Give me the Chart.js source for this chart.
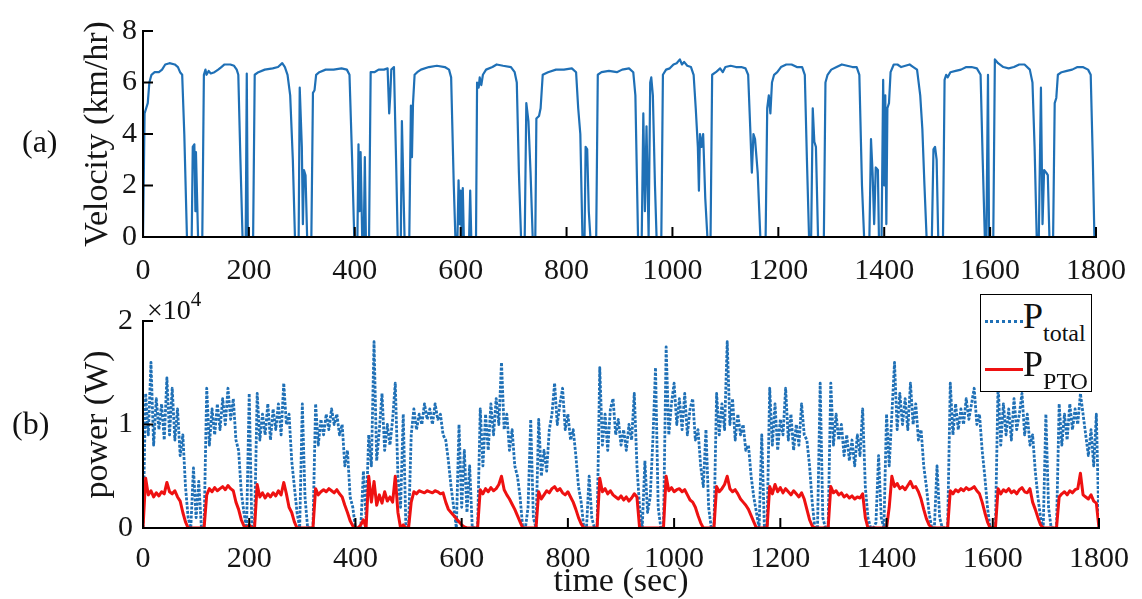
<!DOCTYPE html>
<html>
<head>
<meta charset="utf-8">
<script src="https://cdn.jsdelivr.net/npm/chart.js@4.4.0/dist/chart.umd.min.js"></script>
<style>
  html, body { margin: 0; padding: 0; background: #fff; overflow: hidden; }
  #wrap { position: relative; width: 1142px; height: 599px; font-family: 'Liberation Serif', 'Times New Roman', serif; color: #111; }
  #velocityChart { position: absolute; left: 0; top: 0; }
  #powerChart { position: absolute; left: 0; top: 290px; }
  .panel-tag { position: absolute; font-size: 32px; line-height: 1; }
  #exponent { position: absolute; left: 147px; top: 292px; font-size: 28px; line-height: 1; }
  #exponent sup { font-size: 21px; position: relative; top: -3px; }
  #legend { position: absolute; left: 980px; top: 294px; width: 110px; height: 96px; border: 1.5px solid #000; background: #fff; z-index: 2; }
  .legend-row { position: relative; height: 48px; }
  .legend-line { position: absolute; left: 4px; top: 25px; width: 38px; height: 0; }
  .legend-text { position: absolute; left: 42px; top: 3px; font-size: 36px; line-height: 1; white-space: nowrap; }
  .legend-text sub { font-size: 24px; vertical-align: -13px; }
</style>
</head>
<body>
<div id="wrap">
  <canvas id="velocityChart" width="1142" height="290"></canvas>
  <canvas id="powerChart" width="1142" height="330"></canvas>
  <span class="panel-tag" style="left:22px; top:125px;">(a)</span>
  <span class="panel-tag" style="left:12px; top:407px;">(b)</span>
  <span id="exponent">&times;10<sup>4</sup></span>
  <div id="legend"></div>
</div>
<script>
// ---- data ----
// velocity trace, irregular time samples (sec) and km/hr
const velTime = [
  0, 3, 6, 9, 12, 16, 22, 30, 36, 42, 50, 60, 66, 70, 74, 78, 83,
  92, 94, 97, 99, 100, 104,
  112, 115, 118, 120, 124, 128, 135, 142, 148, 154, 165, 172, 177, 180, 184, 188,
  194, 196, 198,
  208, 211, 218, 230, 245, 255, 263, 268, 273, 278, 283, 287,
  294, 296, 300, 302, 304, 307, 310,
  318, 321, 324, 327, 333, 345, 360, 375, 385, 390, 395, 399,
  405, 407, 409, 411, 414, 417, 419, 421,
  427, 430, 437, 445, 455, 462, 465, 467, 469, 474, 478, 481,
  487, 489, 494, 503, 506, 508, 510, 513,
  518, 525, 540, 555, 570, 578, 582, 587, 590,
  594, 596, 598, 600, 602, 604, 606, 616, 618, 620,
  629, 631, 634, 636, 639, 642, 648, 660, 668, 680, 695, 702, 706, 710, 714,
  721, 724, 728, 732, 736,
  741, 743, 748, 751, 755, 765, 780, 795, 810, 818, 822, 826, 830,
  834, 836, 839, 842, 845,
  856, 859, 866, 880, 895, 905, 918, 926, 930, 935,
  942, 945, 948, 951, 955, 958, 960, 963, 967, 970,
  979, 982, 988, 995, 1002, 1008, 1014, 1018, 1022, 1028, 1035, 1040, 1044, 1048, 1050, 1052, 1055, 1058, 1062, 1066,
  1072, 1075, 1082, 1090, 1095, 1100, 1110, 1120, 1130, 1138, 1143, 1147, 1150, 1153, 1156, 1161, 1166,
  1176, 1179, 1182, 1185, 1188, 1192, 1198, 1205, 1215, 1225, 1235, 1245, 1250, 1254, 1258,
  1262, 1265, 1268, 1271, 1275,
  1286, 1289, 1293, 1300, 1310, 1320, 1330, 1340, 1348, 1353, 1358, 1362,
  1372, 1375, 1378, 1381, 1384, 1388, 1390, 1395, 1398, 1400, 1402, 1404, 1406, 1409,
  1412, 1418, 1425, 1432, 1440, 1448, 1455, 1462, 1468, 1472, 1476, 1480,
  1490, 1493, 1496, 1499, 1502,
  1511, 1514, 1517, 1520, 1525, 1535, 1545, 1555, 1565, 1575, 1582, 1586, 1590,
  1593, 1596, 1598,
  1606, 1609, 1615, 1625, 1635, 1645, 1655, 1665, 1675, 1680, 1684, 1688,
  1692, 1696, 1699, 1702, 1706, 1709, 1712,
  1719, 1722, 1725, 1728, 1735, 1745, 1755, 1765, 1775, 1785, 1790, 1794, 1797, 1800
];
const velValue = [
  0, 4.8, 5.0, 5.2, 6.0, 6.3, 6.4, 6.4, 6.5, 6.7, 6.75, 6.7, 6.6, 6.4, 6.3, 4.0, 0,
  0, 3.5, 3.6, 1.0, 3.3, 0,
  0, 6.3, 6.5, 6.3, 6.45, 6.35, 6.4, 6.5, 6.6, 6.7, 6.7, 6.65, 6.5, 6.3, 3.0, 0,
  0, 6.35, 0,
  0, 6.3, 6.4, 6.5, 6.55, 6.6, 6.75, 6.6, 6.3, 5.5, 3.0, 0,
  0, 5.8, 3.5, 0.5, 2.6, 2.4, 0,
  0, 5.6, 5.7, 6.3, 6.4, 6.5, 6.5, 6.55, 6.5, 6.3, 3.0, 0,
  0, 3.6, 1.0, 3.3, 0, 0, 3.1, 0,
  0, 6.4, 6.4, 6.5, 6.5, 6.55, 4.8, 5.5, 6.5, 6.6, 3.0, 0,
  0, 4.5, 0, 0, 5.1, 3.1, 5.2, 6.3,
  6.4, 6.5, 6.6, 6.65, 6.6, 6.5, 6.2, 2.0, 0,
  0, 2.2, 0.5, 1.8, 0, 1.9, 0, 0, 1.8, 0,
  0, 6.0, 5.8, 6.2, 5.9, 6.3, 6.5, 6.6, 6.7, 6.65, 6.6, 6.4, 6.0, 2.5, 0,
  0, 5.2, 4.5, 2.5, 0,
  0, 4.6, 4.7, 5.0, 6.3, 6.4, 6.5, 6.5, 6.55, 6.4, 5.0, 4.0, 0,
  0, 3.5, 3.4, 1.0, 0,
  0, 6.3, 6.4, 6.45, 6.4, 6.5, 6.55, 6.4, 5.5, 0,
  0, 4.8, 1.0, 4.3, 0, 6.0, 6.2, 5.5, 2.0, 0,
  0, 6.3, 6.5, 6.55, 6.7, 6.75, 6.9, 6.7, 6.8, 6.65, 6.6, 6.3, 5.0, 3.5, 1.8, 4.0, 3.5, 4.0, 1.5, 0,
  0, 6.3, 6.4, 6.55, 6.4, 6.6, 6.65, 6.6, 6.6, 6.55, 6.3, 4.2, 2.5, 4.0, 3.8, 2.5, 0,
  0, 5.0, 5.5, 4.8, 6.0, 6.3, 6.4, 6.6, 6.7, 6.7, 6.6, 6.6, 6.3, 3.0, 0,
  0, 5.0, 3.7, 3.5, 0,
  0, 6.0, 6.3, 6.5, 6.6, 6.7, 6.65, 6.6, 6.6, 6.3, 2.0, 0,
  0, 3.8, 2.5, 0.5, 2.7, 2.6, 0, 0, 6.1, 2.0, 5.5, 0.5, 5.0, 5.2,
  6.4, 6.7, 6.7, 6.6, 6.65, 6.7, 6.6, 6.5, 5.5, 4.2, 2.0, 0,
  0, 3.4, 3.5, 3.0, 0,
  0, 6.1, 6.3, 6.2, 6.4, 6.45, 6.5, 6.6, 6.6, 6.55, 6.3, 3.0, 0,
  0, 6.3, 0,
  0, 6.9, 6.75, 6.6, 6.55, 6.6, 6.7, 6.7, 6.5, 6.0, 3.5, 0,
  0, 5.8, 0.5, 2.6, 2.5, 2.4, 0,
  0, 5.2, 5.4, 6.3, 6.4, 6.45, 6.5, 6.6, 6.6, 6.5, 6.3, 3.0, 0, 0
];

// power traces (W), one sample every 5 s from 0 to 1800 s
const SAMPLE_STEP = 5;
const pTotal = [
  0, 13000, 9000, 16000, 8000, 12500, 9500, 12000, 8500, 14500,
  9000, 13500, 8500, 11500, 7000, 9000, 4000, 1000, 0, 5800,
  1000, 4500, 0, 0, 13500, 8000, 11500, 9000, 12000, 9500,
  12500, 10000, 13500, 10500, 12500, 8500, 7500, 3500, 1500, 0,
  13000, 0, 0, 13000, 8500, 11000, 9000, 12000, 8500, 11500,
  9500, 12000, 9000, 14000, 10000, 11000, 6500, 4000, 1500, 0,
  12000, 3000, 0, 0, 0, 12000, 8000, 10500, 9000, 11000,
  9500, 11500, 10000, 11000, 9000, 10000, 6000, 7500, 3000, 2000,
  0, 0, 0, 5500, 1000, 9000, 6000, 18000, 6500, 9500,
  13000, 7500, 10000, 8000, 10500, 14000, 5000, 2000, 11000, 0,
  0, 9000, 11500, 9500, 11000, 10000, 12000, 10500, 11500, 10000,
  12000, 10500, 11000, 9000, 8500, 6500, 4000, 2000, 0, 10000,
  2000, 7500, 1500, 6000, 0, 0, 0, 11500, 6000, 11000,
  7500, 12000, 9000, 12500, 10000, 16000, 9500, 11000, 7500, 9500,
  6000, 5000, 3000, 0, 0, 2000, 10500, 1000, 0, 10500,
  5000, 7500, 5500, 9500, 11000, 14000, 10000, 12000, 13500, 9500,
  11000, 8500, 9500, 7000, 4000, 2500, 0, 0, 5000, 1000,
  0, 0, 15500, 8000, 11000, 7500, 11500, 12500, 9000, 10500,
  8000, 9500, 7500, 10000, 8500, 13000, 6000, 2000, 0, 6500,
  1500, 3000, 8500, 15500, 2000, 0, 0, 17500, 9000, 12000,
  14000, 10000, 12500, 9500, 13000, 9000, 11500, 12500, 8500, 9500,
  6000, 4000, 9500, 2000, 0, 0, 13000, 9000, 12000, 9500,
  18000, 10000, 12500, 8500, 11000, 9000, 10000, 7500, 8000, 5000,
  3000, 1500, 0, 9000, 0, 0, 13500, 8000, 12000, 7500,
  10500, 9000, 13500, 8500, 11000, 7500, 10000, 8000, 12000, 9000,
  8500, 6000, 2500, 0, 0, 14000, 1000, 0, 0, 14000,
  8000, 11000, 8500, 10000, 7000, 9000, 6500, 8500, 6000, 9000,
  7000, 11500, 4000, 1000, 0, 0, 500, 7000, 1000, 0,
  11000, 6000, 11000, 16000, 9500, 13000, 10000, 12500, 9500, 14000,
  10000, 12000, 8500, 9500, 6000, 4000, 1500, 0, 0, 6000,
  1000, 0, 0, 0, 14000, 9000, 12000, 9500, 11500, 10000,
  12500, 10500, 12000, 13500, 10000, 11000, 7500, 5000, 2000, 0,
  0, 0, 14000, 8000, 12000, 9000, 11500, 8500, 12500, 9500,
  11000, 13000, 9000, 11000, 8000, 9000, 5500, 3000, 1000, 0,
  11000, 2000, 0, 0, 0, 12000, 8000, 11000, 8500, 12000,
  9500, 11500, 10000, 13000, 11000, 9000, 7000, 9500, 6000, 11000,
  0
];
const pPto = [
  0, 4800, 3200, 3600, 3000, 3400, 3100, 3500, 3300, 4400,
  3500, 3300, 3600, 3000, 2600, 1500, 600, 0, 0, 0,
  0, 0, 0, 0, 3200, 3800, 3500, 3900, 3600, 3800,
  4000, 3700, 4100, 3800, 3600, 2500, 1800, 800, 200, 0,
  300, 0, 0, 4200, 3000, 3400, 2900, 3300, 3000, 3400,
  3100, 3600, 3200, 4400, 3300, 2000, 1500, 600, 0, 0,
  0, 0, 0, 0, 0, 3800, 3200, 3500, 3700, 3500,
  3800, 3600, 3400, 3700, 3300, 3000, 2200, 1500, 700, 200,
  0, 0, 300, 800, 0, 5000, 2500, 4500, 2200, 3200,
  2400, 3500, 2600, 3000, 2500, 5000, 1500, 0, 300, 0,
  0, 2500, 3500, 3300, 3600, 3500, 3400, 3600, 3500, 3400,
  3600, 3500, 3300, 3400, 2500, 1800, 1500, 1200, 900, 600,
  300, 100, 0, 0, 0, 0, 0, 3700, 3300, 3800,
  3500, 3900, 3600, 3800, 4200, 5000, 3700, 3200, 2800, 2300,
  1800, 1200, 600, 0, 0, 0, 0, 0, 0, 3500,
  2800, 3200, 3600, 3400, 3800, 4000, 3600, 3800, 3400, 3200,
  3500, 3000, 2500, 1800, 1000, 400, 0, 0, 0, 0,
  0, 0, 4800, 3500, 3800, 3300, 3600, 3200, 3000, 2800,
  3100, 2700, 3000, 2600, 2900, 3300, 3000, 0, 0, 0,
  0, 0, 0, 0, 0, 0, 0, 5000, 3600, 3900,
  3500, 3700, 3800, 3500, 3700, 3200, 2700, 2500, 2000, 1200,
  500, 0, 0, 0, 0, 0, 4000, 3500, 3800, 4200,
  5000, 3800, 3500, 3700, 3300, 2800, 2500, 2200, 1800, 1200,
  600, 0, 0, 0, 0, 0, 4000, 3300, 4200, 3500,
  3900, 3400, 3800, 3500, 3200, 3600, 3300, 3000, 3400, 2800,
  1800, 800, 200, 0, 0, 0, 0, 0, 0, 4000,
  3400, 3600, 3200, 3400, 3000, 3200, 2900, 3100, 2800, 3000,
  2900, 3300, 1000, 0, 0, 0, 0, 0, 0, 0,
  0, 2000, 5000, 4000, 4300, 3800, 4000, 3700, 4100, 4500,
  3900, 4000, 3500, 2800, 1800, 900, 300, 0, 0, 0,
  0, 0, 0, 0, 3600, 3300, 3700, 3500, 3800, 3600,
  3900, 3700, 3800, 4000, 3600, 3300, 2500, 1500, 600, 0,
  0, 0, 3800, 3300, 3700, 3500, 3800, 3400, 3600, 3300,
  3700, 3900, 3500, 3400, 3800, 2500, 1800, 1000, 300, 0,
  0, 0, 0, 0, 0, 3000, 3300, 3500, 3200, 3600,
  3400, 3700, 3800, 5300, 3200, 3000, 2800, 3200, 2600, 2400,
  0
];

const timeTicks = { min: 0, max: 1800, step: 200 };
const velTicks = { min: 0, max: 8, step: 2 };
const powerTicks = { min: 0, max: 20000, step: 10000 };

// ---- styling ----
const SERIF = "'Liberation Serif', 'Times New Roman', serif";
const TICK_LEN = 9;
const BLUE = '#1f70b6';
const RED = '#ee1111';
const tickFont = { family: SERIF, size: 30, weight: 'normal' };
const titleFont = { family: SERIF, size: 34, weight: 'normal' };

Chart.defaults.font.family = SERIF;
Chart.defaults.color = '#151515';

// axes drawn MATLAB style: left + bottom lines, ticks pointing inward, on top of data
const matlabAxes = {
  id: 'matlabAxes',
  afterDatasetsDraw(chart) {
    const { ctx, chartArea: a, scales: { x, y } } = chart;
    ctx.save();
    ctx.strokeStyle = '#000';
    ctx.lineWidth = 2;
    ctx.lineCap = 'square';
    ctx.beginPath();
    ctx.moveTo(a.left, a.top);
    ctx.lineTo(a.left, a.bottom);
    ctx.lineTo(a.right, a.bottom);
    x.ticks.forEach(t => {
      const px = x.getPixelForValue(t.value);
      ctx.moveTo(px, a.bottom);
      ctx.lineTo(px, a.bottom - TICK_LEN);
    });
    y.ticks.forEach(t => {
      const py = y.getPixelForValue(t.value);
      ctx.moveTo(a.left, py);
      ctx.lineTo(a.left + TICK_LEN, py);
    });
    ctx.stroke();
    ctx.restore();
  }
};

// legend box with subscripts, built from the dataset labels ("P_total" -> P<sub>total</sub>)
const htmlLegend = {
  id: 'htmlLegend',
  afterUpdate(chart, args, opts) {
    const box = document.getElementById(opts.containerID);
    if (!box) return;
    box.innerHTML = '';
    chart.data.datasets.forEach(ds => {
      const [main, sub] = ds.label.split('_');
      const row = document.createElement('div');
      row.className = 'legend-row';
      const line = document.createElement('span');
      line.className = 'legend-line';
      line.style.borderTop = `${Math.round(ds.borderWidth)}px ${ds.borderDash ? 'dotted' : 'solid'} ${ds.borderColor}`;
      const text = document.createElement('span');
      text.className = 'legend-text';
      text.innerHTML = `${main}<sub>${sub}</sub>`;
      row.appendChild(line);
      row.appendChild(text);
      box.appendChild(row);
    });
  }
};

function timeAxis(height, padding, title) {
  return {
    type: 'linear',
    min: timeTicks.min,
    max: timeTicks.max,
    ticks: {
      stepSize: timeTicks.step, padding: padding, font: tickFont, maxRotation: 0, autoSkip: false,
      callback: v => String(v)
    },
    grid: { display: false, drawTicks: false },
    border: { display: false },
    title: title,
    afterFit(scale) { scale.height = height; }
  };
}

new Chart(document.getElementById('velocityChart'), {
  type: 'line',
  data: {
    datasets: [{
      label: 'Velocity',
      data: velTime.map((t, i) => ({ x: t, y: velValue[i] })),
      borderColor: BLUE,
      borderWidth: 2.2,
      pointRadius: 0,
      tension: 0,
      borderJoinStyle: 'round'
    }]
  },
  options: {
    responsive: false,
    animation: false,
    layout: { padding: { left: 60, right: 42, top: 31, bottom: 0 } },
    plugins: { legend: { display: false }, tooltip: { enabled: false } },
    scales: {
      x: timeAxis(53, 16, { display: false }),
      y: {
        min: velTicks.min,
        max: velTicks.max,
        ticks: { stepSize: velTicks.step, padding: 6, font: tickFont },
        grid: { display: false, drawTicks: false },
        border: { display: false },
        title: { display: true, text: 'Velocity (km/hr)', font: titleFont, padding: { top: 18, bottom: 0 } },
        afterFit(scale) { scale.width = 83; }
      }
    }
  },
  plugins: [matlabAxes]
});

new Chart(document.getElementById('powerChart'), {
  type: 'line',
  data: {
    datasets: [
      {
        label: 'P_total',
        data: pTotal.map((v, i) => ({ x: i * SAMPLE_STEP, y: v })),
        borderColor: BLUE,
        borderWidth: 2.8,
        borderDash: [3, 1.5],
        pointRadius: 0,
        tension: 0,
        borderJoinStyle: 'round',
        order: 2
      },
      {
        label: 'P_PTO',
        data: pPto.map((v, i) => ({ x: i * SAMPLE_STEP, y: v })),
        borderColor: RED,
        borderWidth: 3,
        pointRadius: 0,
        tension: 0,
        borderJoinStyle: 'round',
        order: 1
      }
    ]
  },
  options: {
    responsive: false,
    animation: false,
    layout: { padding: { left: 60, right: 42, top: 31, bottom: 0 } },
    plugins: {
      legend: { display: false },
      tooltip: { enabled: false },
      htmlLegend: { containerID: 'legend' }
    },
    scales: {
      x: timeAxis(92, 13, { display: true, text: 'time (sec)', font: titleFont, padding: { top: 0, bottom: 18 } }),
      y: {
        min: powerTicks.min,
        max: powerTicks.max,
        ticks: { stepSize: powerTicks.step, padding: 10, font: tickFont, callback: v => v / 1e4 },
        grid: { display: false, drawTicks: false },
        border: { display: false },
        title: { display: true, text: 'power (W)', font: titleFont, padding: { top: 18, bottom: 0 } },
        afterFit(scale) { scale.width = 83; }
      }
    }
  },
  plugins: [matlabAxes, htmlLegend]
});
</script>
</body>
</html>
